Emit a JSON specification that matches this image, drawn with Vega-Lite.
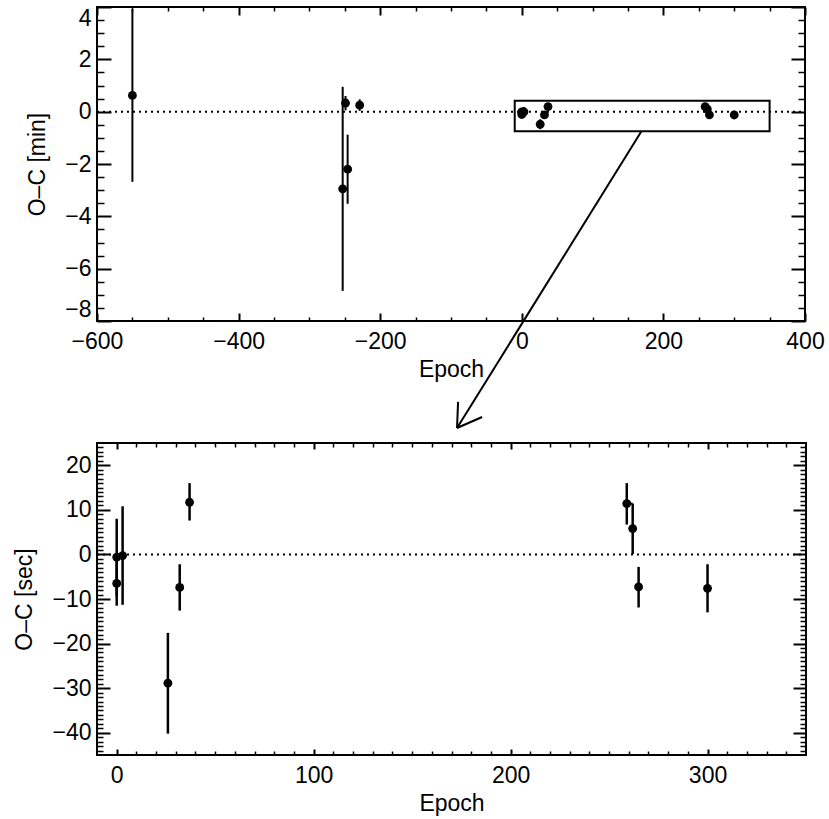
{
  "$schema": "https://vega.github.io/schema/vega-lite/v6.json",
  "background": "white",
  "padding": {"left": 12, "top": 5, "right": 0, "bottom": 0},
  "bounds": "flush",
  "spacing": 122,
  "config": {
    "view": {"stroke": "black", "strokeWidth": 2},
    "axis": {
      "domain": false,
      "grid": false,
      "tickColor": "black",
      "tickWidth": 2,
      "labelColor": "black",
      "titleColor": "black",
      "labelFont": "Liberation Sans",
      "titleFont": "Liberation Sans",
      "labelFontSize": 23,
      "titleFontSize": 23,
      "titleFontWeight": "normal",
      "labelOverlap": false
    }
  },
  "datasets": {
    "oc_min": [
      {"epoch": -550, "oc": 0.62, "lo": -2.68, "hi": 3.92},
      {"epoch": -253, "oc": -2.95, "lo": -6.85, "hi": 0.95},
      {"epoch": -249, "oc": 0.33, "lo": 0.05, "hi": 0.6},
      {"epoch": -246, "oc": -2.2, "lo": -3.52, "hi": -0.88},
      {"epoch": -229, "oc": 0.25, "lo": 0.03, "hi": 0.47},
      {"epoch": 0, "oc": -0.01, "lo": -0.153, "hi": 0.133},
      {"epoch": 0, "oc": -0.108, "lo": -0.192, "hi": -0.025},
      {"epoch": 3, "oc": -0.004, "lo": -0.188, "hi": 0.18},
      {"epoch": 26, "oc": -0.482, "lo": -0.67, "hi": -0.293},
      {"epoch": 32, "oc": -0.123, "lo": -0.21, "hi": -0.037},
      {"epoch": 37, "oc": 0.195, "lo": 0.125, "hi": 0.265},
      {"epoch": 259, "oc": 0.19, "lo": 0.112, "hi": 0.267},
      {"epoch": 262, "oc": 0.097, "lo": 0.003, "hi": 0.19},
      {"epoch": 265, "oc": -0.122, "lo": -0.198, "hi": -0.045},
      {"epoch": 300, "oc": -0.127, "lo": -0.217, "hi": -0.037}
    ],
    "oc_sec": [
      {"epoch": 0, "oc": -0.6, "lo": -9.2, "hi": 8.0},
      {"epoch": 0, "oc": -6.5, "lo": -11.5, "hi": -1.5},
      {"epoch": 3, "oc": -0.25, "lo": -11.3, "hi": 10.8},
      {"epoch": 26, "oc": -28.9, "lo": -40.2, "hi": -17.6},
      {"epoch": 32, "oc": -7.4, "lo": -12.6, "hi": -2.2},
      {"epoch": 37, "oc": 11.7, "lo": 7.6, "hi": 16.0},
      {"epoch": 259, "oc": 11.4, "lo": 6.7, "hi": 16.0},
      {"epoch": 262, "oc": 5.8, "lo": 0.1, "hi": 11.4},
      {"epoch": 265, "oc": -7.3, "lo": -11.9, "hi": -2.8},
      {"epoch": 300, "oc": -7.6, "lo": -13.0, "hi": -2.2}
    ]
  },
  "vconcat": [
    {
      "width": 708,
      "height": 314,
      "resolve": {"axis": {"x": "independent", "y": "independent"}},
      "layer": [
        {
          "data": {"values": [{"e1": -600, "e2": 400, "v": 0}]},
          "mark": {"type": "rule", "strokeDash": [2, 4], "strokeWidth": 2, "color": "black"},
          "encoding": {
            "x": {"field": "e1", "type": "quantitative", "scale": {"domain": [-600, 400], "nice": false, "zero": false},
                  "axis": {"orient": "bottom", "values": [-600, -400, -200, 0, 200, 400], "ticks": false, "labelPadding": 9, "labelFlush": false, "title": "Epoch", "titlePadding": 5}},
            "x2": {"field": "e2"},
            "y": {"field": "v", "type": "quantitative", "scale": {"domain": [-8, 4], "nice": false, "zero": false},
                  "axis": {"orient": "left", "values": [-8, -6, -4, -2, 0, 2, 4], "ticks": false, "labelPadding": 6, "labelFlush": true, "title": "O–C [min]", "titlePadding": 15}}
          }
        },
        {
          "data": {"name": "oc_min"},
          "mark": {"type": "rule", "strokeWidth": 2, "color": "black"},
          "encoding": {
            "x": {"field": "epoch", "type": "quantitative", "scale": {"domain": [-600, 400], "nice": false, "zero": false},
                  "axis": {"orient": "top", "values": [-600, -400, -200, 0, 200, 400], "labels": false, "tickSize": -8, "title": null}},
            "y": {"field": "lo", "type": "quantitative", "scale": {"domain": [-8, 4], "nice": false, "zero": false},
                  "axis": {"orient": "right", "values": [-8, -6, -4, -2, 0, 2, 4], "labels": false, "tickSize": -14, "title": null}},
            "y2": {"field": "hi"}
          }
        },
        {
          "data": {"name": "oc_min"},
          "mark": {"type": "circle", "size": 78, "color": "black", "opacity": 1},
          "encoding": {
            "x": {"field": "epoch", "type": "quantitative", "scale": {"domain": [-600, 400], "nice": false, "zero": false},
                  "axis": {"orient": "bottom", "values": [-600, -400, -200, 0, 200, 400], "labels": false, "tickSize": -8, "title": null}},
            "y": {"field": "oc", "type": "quantitative", "scale": {"domain": [-8, 4], "nice": false, "zero": false},
                  "axis": {"orient": "left", "values": [-8, -6, -4, -2, 0, 2, 4], "labels": false, "tickSize": -14, "title": null}}
          }
        },
        {
          "data": {"values": [{"e1": -10, "e2": 350, "v1": -0.75, "v2": 0.4167}]},
          "mark": {"type": "rect", "filled": false, "stroke": "black", "strokeWidth": 2},
          "encoding": {
            "x": {"field": "e1", "type": "quantitative", "scale": {"domain": [-600, 400], "nice": false, "zero": false},
                  "axis": {"orient": "bottom", "values": [-550, -500, -450, -350, -300, -250, -150, -100, -50, 50, 100, 150, 250, 300, 350], "labels": false, "tickSize": -4, "tickWidth": 1.5, "title": null}},
            "x2": {"field": "e2"},
            "y": {"field": "v1", "type": "quantitative", "scale": {"domain": [-8, 4], "nice": false, "zero": false},
                  "axis": {"orient": "left", "values": [-7.5, -7, -6.5, -5.5, -5, -4.5, -3.5, -3, -2.5, -1.5, -1, -0.5, 0.5, 1, 1.5, 2.5, 3, 3.5], "labels": false, "tickSize": -7, "tickWidth": 1.5, "title": null}},
            "y2": {"field": "v2"}
          }
        },
        {
          "data": {"values": [
            {"e1": 169, "v1": -0.75, "e2": -91.5, "v2": -12.09},
            {"e1": -91.5, "v1": -12.09, "e2": -90, "v2": -11.09},
            {"e1": -91.5, "v1": -12.09, "e2": -56, "v2": -11.67}
          ]},
          "mark": {"type": "rule", "strokeWidth": 2, "color": "black", "clip": false},
          "encoding": {
            "x": {"field": "e1", "type": "quantitative", "scale": {"domain": [-600, 400], "nice": false, "zero": false},
                  "axis": {"orient": "top", "values": [-550, -500, -450, -350, -300, -250, -150, -100, -50, 50, 100, 150, 250, 300, 350], "labels": false, "tickSize": -4, "tickWidth": 1.5, "title": null}},
            "x2": {"field": "e2"},
            "y": {"field": "v1", "type": "quantitative", "scale": {"domain": [-8, 4], "nice": false, "zero": false},
                  "axis": {"orient": "right", "values": [-7.5, -7, -6.5, -5.5, -5, -4.5, -3.5, -3, -2.5, -1.5, -1, -0.5, 0.5, 1, 1.5, 2.5, 3, 3.5], "labels": false, "tickSize": -7, "tickWidth": 1.5, "title": null}},
            "y2": {"field": "v2"}
          }
        }
      ]
    },
    {
      "width": 709,
      "height": 312,
      "resolve": {"axis": {"x": "independent", "y": "independent"}},
      "layer": [
        {
          "data": {"values": [{"e1": -10, "e2": 350, "v": 0}]},
          "mark": {"type": "rule", "strokeDash": [2, 4], "strokeWidth": 2, "color": "black"},
          "encoding": {
            "x": {"field": "e1", "type": "quantitative", "scale": {"domain": [-10, 350], "nice": false, "zero": false},
                  "axis": {"orient": "bottom", "values": [0, 100, 200, 300], "ticks": false, "labelPadding": 9, "labelFlush": false, "title": "Epoch", "titlePadding": 5}},
            "x2": {"field": "e2"},
            "y": {"field": "v", "type": "quantitative", "scale": {"domain": [-45, 25], "nice": false, "zero": false},
                  "axis": {"orient": "left", "values": [-40, -30, -20, -10, 0, 10, 20], "ticks": false, "labelPadding": 6, "labelFlush": false, "title": "O–C [sec]", "titlePadding": 15}}
          }
        },
        {
          "data": {"name": "oc_sec"},
          "mark": {"type": "rule", "strokeWidth": 2.5, "color": "black"},
          "encoding": {
            "x": {"field": "epoch", "type": "quantitative", "scale": {"domain": [-10, 350], "nice": false, "zero": false},
                  "axis": {"orient": "top", "values": [0, 100, 200, 300], "labels": false, "tickSize": -6, "title": null}},
            "y": {"field": "lo", "type": "quantitative", "scale": {"domain": [-45, 25], "nice": false, "zero": false},
                  "axis": {"orient": "right", "values": [-40, -30, -20, -10, 0, 10, 20], "labels": false, "tickSize": -13, "title": null}},
            "y2": {"field": "hi"}
          }
        },
        {
          "data": {"name": "oc_sec"},
          "mark": {"type": "circle", "size": 78, "color": "black", "opacity": 1},
          "encoding": {
            "x": {"field": "epoch", "type": "quantitative", "scale": {"domain": [-10, 350], "nice": false, "zero": false},
                  "axis": {"orient": "bottom", "values": [0, 100, 200, 300], "labels": false, "tickSize": -6, "title": null}},
            "y": {"field": "oc", "type": "quantitative", "scale": {"domain": [-45, 25], "nice": false, "zero": false},
                  "axis": {"orient": "left", "values": [-40, -30, -20, -10, 0, 10, 20], "labels": false, "tickSize": -13, "title": null}}
          }
        },
        {
          "data": {"values": [{"e1": 259, "e2": 262, "v": 11.4}]},
          "mark": {"type": "rule", "strokeWidth": 2, "color": "black"},
          "encoding": {
            "x": {"field": "e1", "type": "quantitative", "scale": {"domain": [-10, 350], "nice": false, "zero": false},
                  "axis": {"orient": "bottom", "values": [10, 20, 30, 40, 50, 60, 70, 80, 90, 110, 120, 130, 140, 150, 160, 170, 180, 190, 210, 220, 230, 240, 250, 260, 270, 280, 290, 310, 320, 330, 340], "labels": false, "tickSize": -4, "tickWidth": 1.5, "title": null}},
            "x2": {"field": "e2"},
            "y": {"field": "v", "type": "quantitative", "scale": {"domain": [-45, 25], "nice": false, "zero": false},
                  "axis": {"orient": "left", "values": [-44, -43, -42, -41, -39, -38, -37, -36, -35, -34, -33, -32, -31, -29, -28, -27, -26, -25, -24, -23, -22, -21, -19, -18, -17, -16, -15, -14, -13, -12, -11, -9, -8, -7, -6, -5, -4, -3, -2, -1, 1, 2, 3, 4, 5, 6, 7, 8, 9, 11, 12, 13, 14, 15, 16, 17, 18, 19, 21, 22, 23, 24], "labels": false, "tickSize": -6, "tickWidth": 1.5, "title": null}}
          }
        },
        {
          "data": {"values": [{"e1": -10, "e2": 350, "v1": -45, "v2": 25}]},
          "mark": {"type": "rect", "filled": false, "stroke": "black", "strokeWidth": 2},
          "encoding": {
            "x": {"field": "e1", "type": "quantitative", "scale": {"domain": [-10, 350], "nice": false, "zero": false},
                  "axis": {"orient": "top", "values": [10, 20, 30, 40, 50, 60, 70, 80, 90, 110, 120, 130, 140, 150, 160, 170, 180, 190, 210, 220, 230, 240, 250, 260, 270, 280, 290, 310, 320, 330, 340], "labels": false, "tickSize": -4, "tickWidth": 1.5, "title": null}},
            "x2": {"field": "e2"},
            "y": {"field": "v1", "type": "quantitative", "scale": {"domain": [-45, 25], "nice": false, "zero": false},
                  "axis": {"orient": "right", "values": [-44, -43, -42, -41, -39, -38, -37, -36, -35, -34, -33, -32, -31, -29, -28, -27, -26, -25, -24, -23, -22, -21, -19, -18, -17, -16, -15, -14, -13, -12, -11, -9, -8, -7, -6, -5, -4, -3, -2, -1, 1, 2, 3, 4, 5, 6, 7, 8, 9, 11, 12, 13, 14, 15, 16, 17, 18, 19, 21, 22, 23, 24], "labels": false, "tickSize": -6, "tickWidth": 1.5, "title": null}},
            "y2": {"field": "v2"}
          }
        }
      ]
    }
  ]
}
